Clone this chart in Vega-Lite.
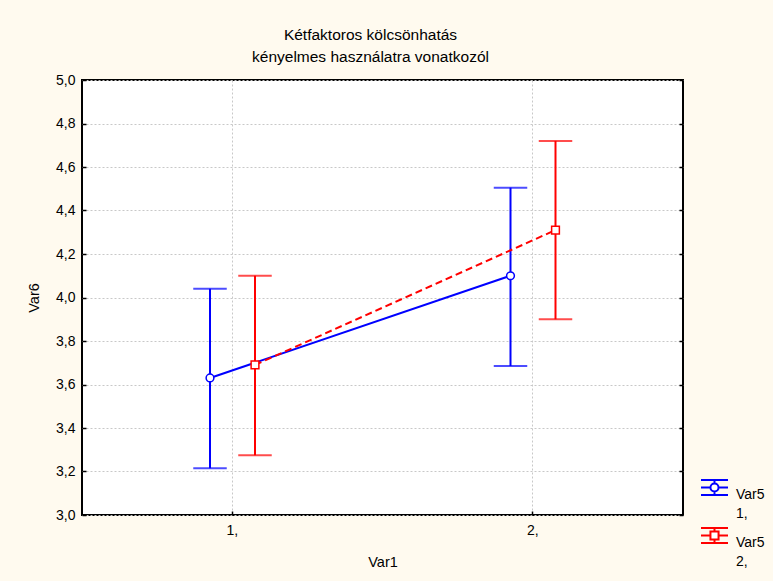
{
  "$schema": "https://vega.github.io/schema/vega-lite/v6.json",
  "width": 601,
  "height": 435,
  "autosize": {"type": "none"},
  "padding": {"left": 82, "top": 80, "right": 90, "bottom": 66},
  "background": "#FFFAEF",
  "title": {
    "text": ["Kétfaktoros kölcsönhatás", "kényelmes használatra vonatkozól"],
    "font": "Liberation Sans",
    "fontSize": 15.5,
    "fontWeight": "normal",
    "color": "black",
    "lineHeight": 22,
    "anchor": "middle",
    "offset": 8,
    "dx": -12
  },
  "data": {
    "values": [
      {"Var1": "1", "Var5": "1", "mean": 3.63, "lo": 3.215, "hi": 4.04},
      {"Var1": "2", "Var5": "1", "mean": 4.10, "lo": 3.685, "hi": 4.505},
      {"Var1": "1", "Var5": "2", "mean": 3.69, "lo": 3.275, "hi": 4.10},
      {"Var1": "2", "Var5": "2", "mean": 4.31, "lo": 3.90, "hi": 4.72}
    ]
  },
  "encoding": {
    "x": {
      "field": "Var1",
      "type": "nominal",
      "scale": {"type": "band", "paddingInner": 0, "paddingOuter": 0},
      "axis": {
        "title": "Var1",
        "labelAngle": 0,
        "labelExpr": "datum.label + ','",
        "bandPosition": 0.5,
        "grid": true,
        "domain": false,
        "tickSize": -4,
        "labelPadding": 12,
        "titlePadding": 18
      }
    },
    "xOffset": {
      "field": "Var5",
      "type": "nominal",
      "scale": {"domain": ["1", "2"], "range": [105.5, 195.5]}
    }
  },
  "layer": [
    {
      "mark": {"type": "point", "filled": false, "fill": "white", "strokeWidth": 2, "opacity": 0},
      "encoding": {
        "y": {
          "field": "mean",
          "type": "quantitative",
          "scale": {"domain": [3, 5], "nice": false, "zero": false},
          "axis": {
            "orient": "right",
            "title": null,
            "labels": false,
            "grid": false,
            "domain": false,
            "tickSize": -4,
            "values": [3, 3.2, 3.4, 3.6, 3.8, 4, 4.2, 4.4, 4.6, 4.8, 5]
          }
        },
        "color": {
          "field": "Var5",
          "type": "nominal",
          "scale": {"domain": ["1", "2"], "range": ["#0000FF", "#FF0000"]},
          "legend": {
            "orient": "none",
            "legendX": 618,
            "legendY": 393,
            "title": null,
            "labelExpr": "['Var5', datum.label + ',']",
            "labelFontSize": 14,
            "labelColor": "black",
            "labelFont": "Liberation Sans",
            "labelBaseline": "top",
            "labelOffset": 7,
            "symbolSize": 729,
            "symbolStrokeWidth": 2,
            "symbolFillColor": "white",
            "symbolOpacity": 1,
            "rowPadding": -16
          }
        },
        "shape": {
          "field": "Var5",
          "type": "nominal",
          "scale": {
            "domain": ["1", "2"],
            "range": [
              "M-1,-0.55H1M-1,0.55H1M-1,0H-0.3M0.3,0H1M0,-0.55V-0.3M0,0.3V0.55M0.3,0A0.3,0.3 0 1,1 -0.3,0A0.3,0.3 0 1,1 0.3,0Z",
              "M-1,-0.55H1M-1,0.55H1M-1,0H-0.3M0.3,0H1M0,-0.55V-0.3M0,0.3V0.55M-0.3,-0.3H0.3V0.3H-0.3Z"
            ]
          },
          "legend": {
            "orient": "none",
            "legendX": 618,
            "legendY": 393,
            "title": null,
            "labelExpr": "['Var5', datum.label + ',']",
            "labelFontSize": 14,
            "labelColor": "black",
            "labelFont": "Liberation Sans",
            "labelBaseline": "top",
            "labelOffset": 7,
            "symbolSize": 729,
            "symbolStrokeWidth": 2,
            "symbolFillColor": "white",
            "symbolOpacity": 1,
            "rowPadding": -16
          }
        }
      }
    },
    {
      "mark": {"type": "rule", "strokeWidth": 2},
      "encoding": {
        "y": {
          "field": "lo",
          "type": "quantitative",
          "axis": {
            "orient": "left",
            "title": "Var6",
            "values": [3, 3.2, 3.4, 3.6, 3.8, 4, 4.2, 4.4, 4.6, 4.8, 5],
            "labelExpr": "replace(format(datum.value, '.1f'), '.', ',')",
            "grid": true,
            "domain": false,
            "tickSize": -4,
            "labelPadding": 11,
            "titlePadding": 14
          }
        },
        "y2": {"field": "hi"},
        "stroke": {
          "field": "Var5",
          "type": "nominal",
          "scale": {"domain": ["1", "2"], "range": ["#0000FF", "#FF0000"]},
          "legend": null
        }
      }
    },
    {
      "mark": {"type": "tick", "filled": false, "thickness": 0.5, "strokeWidth": 1.5, "size": 32},
      "encoding": {
        "y": {"field": "lo", "type": "quantitative", "axis": null},
        "stroke": {"field": "Var5", "type": "nominal", "legend": null}
      }
    },
    {
      "mark": {"type": "tick", "filled": false, "thickness": 0.5, "strokeWidth": 1.5, "size": 32},
      "encoding": {
        "y": {"field": "hi", "type": "quantitative", "axis": null},
        "stroke": {"field": "Var5", "type": "nominal", "legend": null}
      }
    },
    {
      "transform": [{"filter": "datum.Var5 == '1'"}],
      "mark": {"type": "line", "strokeWidth": 2},
      "encoding": {
        "y": {"field": "mean", "type": "quantitative", "axis": null},
        "stroke": {"field": "Var5", "type": "nominal", "legend": null}
      }
    },
    {
      "transform": [{"filter": "datum.Var5 == '2'"}],
      "mark": {"type": "line", "strokeWidth": 2, "strokeDash": [7, 4]},
      "encoding": {
        "y": {"field": "mean", "type": "quantitative", "axis": null},
        "stroke": {"field": "Var5", "type": "nominal", "legend": null}
      }
    },
    {
      "transform": [{"filter": "datum.Var5 == '1'"}],
      "mark": {"type": "point", "shape": "circle", "filled": false, "fill": "white", "strokeWidth": 1.5, "size": 60, "opacity": 1},
      "encoding": {
        "y": {"field": "mean", "type": "quantitative", "axis": null},
        "stroke": {"field": "Var5", "type": "nominal", "legend": null}
      }
    },
    {
      "transform": [{"filter": "datum.Var5 == '2'"}],
      "mark": {"type": "point", "shape": "square", "filled": false, "fill": "white", "strokeWidth": 1.5, "size": 60, "opacity": 1},
      "encoding": {
        "y": {"field": "mean", "type": "quantitative", "axis": null},
        "stroke": {"field": "Var5", "type": "nominal", "legend": null}
      }
    }
  ],
  "resolve": {"axis": {"y": "independent"}},
  "config": {
    "font": "Liberation Sans",
    "view": {"stroke": "black", "strokeWidth": 2, "fill": "white"},
    "style": {"guide-label": {"lineHeight": 19}},
    "axis": {
      "labelFont": "Liberation Sans",
      "labelFontSize": 14,
      "labelColor": "black",
      "titleFont": "Liberation Sans",
      "titleFontSize": 14.5,
      "titleFontWeight": "normal",
      "titleColor": "black",
      "tickColor": "black",
      "tickWidth": 1.5,
      "gridColor": "#C8C8C8",
      "gridDash": [2, 2],
      "gridWidth": 1
    }
  }
}
